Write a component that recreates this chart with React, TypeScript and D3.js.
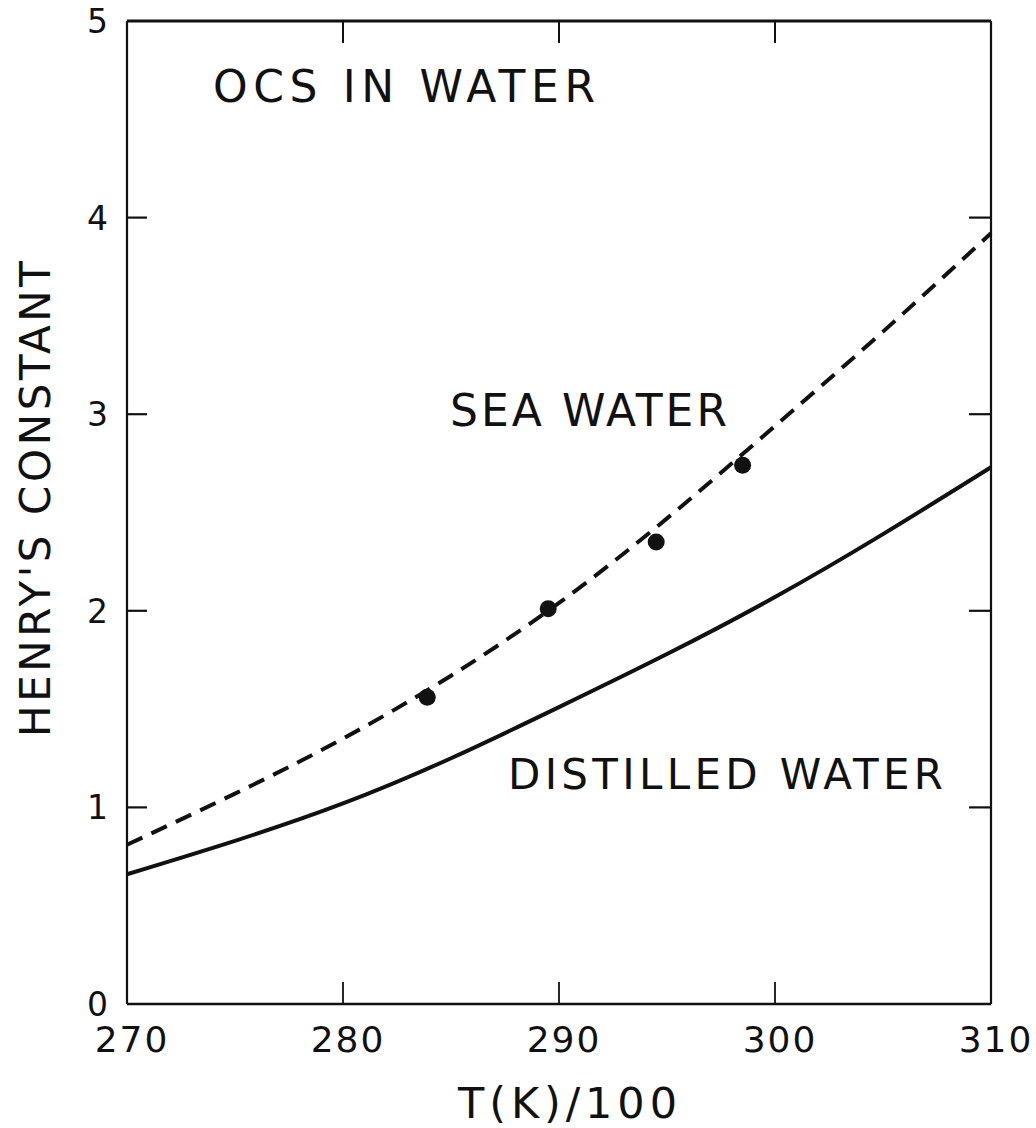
import React from "react";
import * as d3 from "d3";

// Henry's constant of OCS vs temperature
const temps = [270, 275, 280, 285, 290, 295, 300, 305, 310];
const seaWater = [0.81, 1.07, 1.35, 1.67, 2.04, 2.47, 2.94, 3.42, 3.92];
const distilledWater = [0.66, 0.83, 1.02, 1.25, 1.51, 1.78, 2.07, 2.39, 2.73];
const measuredT = [283.9, 289.5, 294.5, 298.5];
const measuredH = [1.56, 2.01, 2.35, 2.74];
const xTicks = [270, 280, 290, 300, 310];
const yTicks = [0, 1, 2, 3, 4, 5];
const innerXTicks = [280, 290, 300];
const innerYTicks = [1, 2, 3, 4];

const W = 1036;
const H = 1128;
const left = 127;
const right = 991;
const top = 21;
const bottom = 1004;
const FONT = "'DejaVu Sans', 'Liberation Sans', sans-serif";

export default function App() {
  const x = d3.scaleLinear().domain([270, 310]).range([left, right]);
  const y = d3.scaleLinear().domain([0, 5]).range([bottom, top]);
  const line = d3
    .line<[number, number]>()
    .x((d) => x(d[0]))
    .y((d) => y(d[1]))
    .curve(d3.curveNatural);
  const seaPath = line(temps.map((t, i) => [t, seaWater[i]]) as [number, number][]) || "";
  const distPath = line(temps.map((t, i) => [t, distilledWater[i]]) as [number, number][]) || "";
  const tickLen = 22;

  return (
    <svg
      width={W}
      height={H}
      viewBox={`0 0 ${W} ${H}`}
      style={{ position: "absolute", left: 0, top: 0, background: "#fff" }}
    >
      <g fill="none" stroke="#111" strokeLinecap="butt">
        {/* frame */}
        <line x1={left} y1={top} x2={right} y2={top} strokeWidth={3} />
        <line x1={left} y1={bottom} x2={right} y2={bottom} strokeWidth={2.5} />
        <line x1={left} y1={top} x2={left} y2={bottom} strokeWidth={2.2} />
        <line x1={right} y1={top} x2={right} y2={bottom} strokeWidth={2.2} />
        {/* inward ticks */}
        {innerYTicks.map((v) => (
          <g key={"y" + v}>
            <line x1={left} x2={left + tickLen - 2} y1={y(v)} y2={y(v)} strokeWidth={2.2} />
            <line x1={right} x2={right - tickLen} y1={y(v)} y2={y(v)} strokeWidth={2.2} />
          </g>
        ))}
        {innerXTicks.map((v) => (
          <g key={"x" + v}>
            <line x1={x(v)} x2={x(v)} y1={bottom} y2={bottom - tickLen} strokeWidth={1.8} />
            <line x1={x(v)} x2={x(v)} y1={top} y2={top + tickLen} strokeWidth={2} />
          </g>
        ))}
        {/* curves */}
        <path d={distPath} strokeWidth={4} />
        <path d={seaPath} strokeWidth={4} strokeDasharray="17,10" />
      </g>
      {measuredT.map((t, i) => (
        <circle key={i} cx={x(t)} cy={y(measuredH[i])} r={8.5} fill="#111" />
      ))}
      <g fontFamily={FONT} fill="#111">
        {yTicks.map((v) => (
          <text key={v} x={108} y={y(v) + 12} fontSize={33} textAnchor="end">
            {v}
          </text>
        ))}
        {xTicks.map((v) => (
          <text key={v} x={x(v) + 5} y={1052} fontSize={36} textAnchor="middle" letterSpacing={2}>
            {v}
          </text>
        ))}
        <text x={213} y={102} fontSize={44} textLength={382} lengthAdjust="spacing">
          OCS IN WATER
        </text>
        <text x={450} y={426} fontSize={44} textLength={277} lengthAdjust="spacing">
          SEA WATER
        </text>
        <text x={508} y={789} fontSize={42} textLength={435} lengthAdjust="spacing">
          DISTILLED WATER
        </text>
        <text x={458} y={1118} fontSize={43} textLength={219} lengthAdjust="spacing">
          T(K)/100
        </text>
        <text
          transform="translate(50,737) rotate(-90)"
          x={0}
          y={0}
          fontSize={42}
          textLength={476}
          lengthAdjust="spacing"
        >
          HENRY'S CONSTANT
        </text>
      </g>
    </svg>
  );
}
